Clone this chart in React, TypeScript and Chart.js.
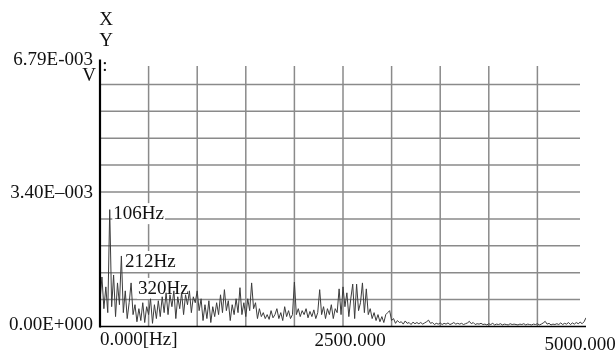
import React, { useEffect, useRef } from 'react';
import { Chart, registerables } from 'chart.js';

Chart.register(...registerables);

// FFT bin spacing of the spectrum (Hz)
const binHz = 20;

// Spectrum amplitude per bin, in mV (0 Hz ... 5000 Hz)
const amplitudeMv = [
  0.65, 1.25, 0.45, 1.0, 0.35, 2.95, 0.5, 1.3, 0.25, 1.1, 0.55,
  1.78, 0.35, 0.9, 0.2, 0.6, 1.1, 0.3, 0.55, 0.12, 0.45,
  0.15, 0.6, 0.1, 0.5, 0.3, 0.7, 0.08, 0.55, 0.2, 0.65,
  0.25, 0.75, 0.35, 0.85, 0.3, 0.8, 0.5, 0.9, 0.2, 0.75,
  0.45, 0.85, 0.3, 0.8, 0.55, 0.9, 0.35, 0.75, 0.6, 0.9,
  0.4, 0.7, 0.15, 0.55, 0.2, 0.65, 0.1, 0.5, 0.25, 0.6,
  0.3, 0.8, 0.35, 0.93, 0.4, 0.65, 0.15, 0.55, 0.3, 0.7,
  0.35, 0.98, 0.3, 0.6, 0.25, 0.7, 0.4, 1.1, 0.45, 0.6,
  0.2, 0.45, 0.25, 0.35, 0.2, 0.3, 0.18, 0.4, 0.22, 0.3,
  0.45, 0.2, 0.35, 0.15, 0.5, 0.25, 0.4, 0.2, 0.3, 1.12,
  0.3, 0.45, 0.25, 0.4, 0.3, 0.45, 0.22, 0.38, 0.25, 0.42,
  0.2, 0.35, 0.93, 0.3, 0.5, 0.2, 0.45, 0.3, 0.55, 0.2,
  0.45, 0.35, 0.95, 0.3, 1.0, 0.5, 0.85, 0.25, 0.7, 1.07,
  0.2, 1.07, 0.4, 0.6, 1.1, 0.35, 0.95, 0.3, 0.45, 0.2,
  0.35, 0.15, 0.3, 0.12, 0.25, 0.1, 0.3, 0.35, 0.4, 0.15,
  0.2, 0.08, 0.15, 0.1, 0.12, 0.06, 0.14, 0.08, 0.1, 0.05,
  0.11, 0.07, 0.1, 0.07, 0.1, 0.06, 0.09, 0.12, 0.16, 0.08,
  0.1, 0.05, 0.08, 0.06, 0.09, 0.05, 0.08, 0.06, 0.09, 0.05,
  0.07, 0.1, 0.06, 0.08, 0.06, 0.08, 0.05, 0.07, 0.09, 0.13,
  0.07, 0.1, 0.05, 0.07, 0.06, 0.08, 0.05, 0.06, 0.04, 0.07,
  0.05, 0.08, 0.04, 0.06, 0.05, 0.07, 0.04, 0.06, 0.05, 0.04,
  0.07, 0.05, 0.06, 0.05, 0.04, 0.06, 0.05, 0.07, 0.04, 0.06,
  0.05, 0.04, 0.06, 0.05, 0.07, 0.04, 0.06, 0.09, 0.13, 0.06,
  0.08, 0.04, 0.06, 0.05, 0.07, 0.05, 0.09, 0.05, 0.08, 0.06,
  0.1, 0.05, 0.09, 0.06, 0.1, 0.07, 0.11, 0.07, 0.12, 0.22,
];

const xMinHz = 0;
const xMaxHz = 5000;
const yMinMv = 0;
const yMaxMv = 6.79;

const xGridHz = [500, 1000, 1500, 2000, 2500, 3000, 3500, 4000, 4500];
const yGridMv = [0.679, 1.358, 2.037, 2.716, 3.395, 4.074, 4.753, 5.432, 6.111];

const xTickValues = [0, 2500, 5000];
const xTickLabels = ['0.000[Hz]', '2500.000', '5000.000'];
const yTickValues = [0, 3.395, 6.79];
const yTickLabels = ['0.00E+000', '3.40E\u2013003', '6.79E-003'];

const peakHz = [106, 212, 320];
const peakLabels = ['106Hz', '212Hz', '320Hz'];

const FONT = '19px "Liberation Serif", "Times New Roman", serif';

const decorPlugin = {
  id: 'decor',
  beforeDatasetsDraw(chart: any) {
    const { ctx } = chart;
    const x = chart.scales.x;
    const y = chart.scales.y;
    const left = x.getPixelForValue(xMinHz);
    const right = x.getPixelForValue(xMaxHz);
    const bottom = y.getPixelForValue(yMinMv);
    const top = y.getPixelForValue(yMaxMv);
    ctx.save();
    // grid
    ctx.strokeStyle = '#8a8a8a';
    ctx.lineWidth = 1.5;
    const hEnd = right - 6;
    yGridMv.forEach((v) => {
      const py = y.getPixelForValue(v);
      ctx.beginPath();
      ctx.moveTo(left, py);
      ctx.lineTo(hEnd, py);
      ctx.stroke();
    });
    const vTop = top + 8.5;
    xGridHz.forEach((v) => {
      const px = x.getPixelForValue(v);
      ctx.beginPath();
      ctx.moveTo(px, vTop);
      ctx.lineTo(px, bottom);
      ctx.stroke();
    });

    ctx.font = FONT;
    ctx.fillStyle = '#111';
    ctx.textBaseline = 'middle';

    // peak annotations with white background
    const peakDx = [3, 4.5, 7];
    const peakDy = [3.5, 5, 5];
    peakHz.forEach((hz, i) => {
      const val = amplitudeMv[Math.round(hz / binHz)];
      const px = x.getPixelForValue(hz) + peakDx[i];
      const py = y.getPixelForValue(val) + peakDy[i];
      const w = ctx.measureText(peakLabels[i]).width;
      ctx.fillStyle = '#fff';
      ctx.fillRect(px - 1, py - 10, w + 2, 21);
      ctx.fillStyle = '#111';
      ctx.textAlign = 'left';
      ctx.fillText(peakLabels[i], px, py + 1);
    });

    // y tick labels
    const yDy = [-1.5, 1.5, 2.5];
    ctx.textAlign = 'right';
    yTickValues.forEach((v, i) => {
      ctx.fillText(yTickLabels[i], left - 7, y.getPixelForValue(v) + yDy[i]);
    });

    // x tick labels
    const xDx = [0, 7, -6];
    const xDy = [14, 15, 19];
    xTickValues.forEach((v, i) => {
      ctx.textAlign = i === 0 ? 'left' : 'center';
      ctx.fillText(xTickLabels[i], x.getPixelForValue(v) + xDx[i], bottom + xDy[i]);
    });

    // axis captions
    ctx.textAlign = 'center';
    ctx.fillText('X', left + 6, top - 37);
    ctx.fillText('Y', left + 6, top - 16);
    ctx.textAlign = 'right';
    ctx.fillText('V', left - 4, top + 19);
    ctx.textAlign = 'center';
    ctx.fillText(':', left + 5, top + 9);
    ctx.restore();
  },
  afterDatasetsDraw(chart: any) {
    const { ctx } = chart;
    const x = chart.scales.x;
    const y = chart.scales.y;
    const left = x.getPixelForValue(xMinHz);
    const right = x.getPixelForValue(xMaxHz);
    const bottom = y.getPixelForValue(yMinMv);
    const top = y.getPixelForValue(yMaxMv);
    ctx.save();
    ctx.strokeStyle = '#000';
    ctx.lineWidth = 1.6;
    ctx.beginPath();
    ctx.moveTo(left, bottom);
    ctx.lineTo(right, bottom);
    ctx.stroke();
    ctx.lineWidth = 2.2;
    ctx.beginPath();
    ctx.moveTo(left, top + 2);
    ctx.lineTo(left, bottom + 1);
    ctx.stroke();
    ctx.restore();
  },
};

export default function App() {
  const canvasRef = useRef<HTMLCanvasElement | null>(null);

  useEffect(() => {
    const canvas = canvasRef.current;
    if (!canvas) return;
    const points = amplitudeMv.map((v, i) => ({ x: i * binHz, y: v }));
    const chart = new Chart(canvas, {
      type: 'line',
      data: {
        datasets: [
          {
            data: points,
            borderColor: '#3c3c3c',
            borderWidth: 1,
            pointRadius: 0,
            tension: 0,
            fill: false,
          },
        ],
      },
      options: {
        responsive: false,
        animation: false,
        devicePixelRatio: 1,
        layout: { padding: { left: 100, right: 30, top: 57.5, bottom: 26.5 } },
        plugins: { legend: { display: false }, tooltip: { enabled: false } },
        scales: {
          x: { type: 'linear', min: xMinHz, max: xMaxHz, display: false },
          y: { type: 'linear', min: yMinMv, max: yMaxMv, display: false },
        },
      },
      plugins: [decorPlugin],
    });
    return () => chart.destroy();
  }, []);

  return (
    <div style={{ position: 'absolute', left: 0, top: 0, width: 616, height: 353, background: '#fff' }}>
      <canvas ref={canvasRef} width={616} height={353} />
    </div>
  );
}
